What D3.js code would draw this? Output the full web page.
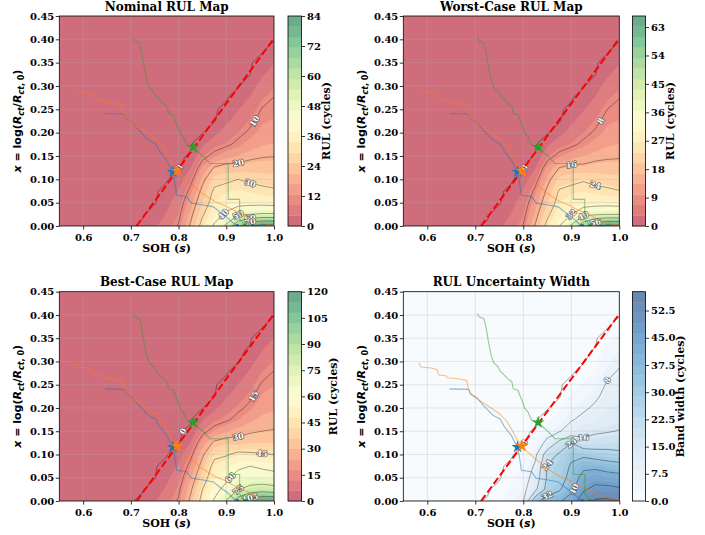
<!DOCTYPE html>
<html>
<head>
<meta charset="utf-8">
<script src="https://cdn.jsdelivr.net/npm/d3@7"></script>
<style>
  body { margin: 0; background: #fff; }
  svg text { font-family: "DejaVu Serif", serif; font-weight: bold; fill: #000; }
  .tick text { font-size: 10px; }
  .tick line { stroke: #000; stroke-width: 0.8; }
  .title { font-size: 12px; }
  .axlabel { font-size: 11px; }
  .clabel { font-size: 8px; fill: #fff !important; stroke: #444; stroke-width: 1.3px; stroke-opacity: 0.85; paint-order: stroke; stroke-linejoin: round; }
</style>
</head>
<body>
<svg id="fig" width="705" height="535"></svg>
<script>

// grid nodes of the maps
var sohNodes = [0.55, 0.575, 0.60, 0.625, 0.65, 0.675, 0.70, 0.725, 0.75, 0.775, 0.80, 0.825, 0.85, 0.875, 0.90, 0.925, 0.95, 0.975, 1.00];
var xNodes = [0, 0.025, 0.05, 0.075, 0.10, 0.125, 0.15, 0.175, 0.20, 0.225, 0.25, 0.275, 0.30, 0.325, 0.35, 0.375, 0.40, 0.425, 0.45];
var firstCol = 7; // SOH < 0.725 is zero everywhere

/*
one array per SOH column (0.725 ... 1.0), values from x = 0 upward,
cells not listed are 0 (above the EOL line)
*/
var rulNominal = [
	[0.8],
	[3.5, 1.8],
	[6.5, 4.5, 3, 1],
	[10.5, 8.5, 6.5, 4.5, 2],
	[21, 18, 15, 11.5, 8, 4, 0.5],
	[33, 29, 25, 22, 18, 13.5, 8, 3.5],
	[41, 37, 34, 31.5, 27, 20.5, 12, 7, 3],
	[52, 41, 37, 33, 28.5, 22.5, 15, 8.8, 6, 3.5, 1],
	[68, 49, 36, 34, 30, 22, 17, 11.5, 8.5, 6, 4, 2],
	[80, 50, 37, 33, 28.5, 23, 18.5, 14.5, 11, 8.8, 6.5, 4.5, 2.5, 0.3],
	[84, 51, 37, 32, 27.5, 23, 19.5, 16.5, 14, 12, 10.3, 8, 5.8, 3.6, 1.5],
	[84, 51, 36.5, 31, 27, 23, 19.8, 17, 15, 13, 11.5, 10.1, 8, 6, 4, 2]
];
var rulWorst = [
	[0.6],
	[2.7, 1.4],
	[5, 3.5, 2.3, 0.8],
	[8.2, 6.6, 5, 3.5, 1.5],
	[16.5, 14, 11.7, 9, 6.2, 3.1, 0.4],
	[26, 22.6, 19.5, 17.2, 14, 10.5, 6.2, 2.7],
	[32, 29, 26.5, 24.5, 21, 16, 9.4, 5.5, 2.3],
	[41, 32, 29, 25.8, 22.2, 17.5, 11.7, 6.9, 4.7, 2.7, 0.8],
	[53, 38, 28, 26.5, 23.4, 17.2, 13.3, 9, 6.6, 4.7, 3.1, 1.6],
	[63, 39, 29, 25.8, 22.2, 18, 14.4, 11.3, 8.6, 6.9, 5.1, 3.5, 2, 0.2],
	[66.5, 40, 29, 25, 21.5, 18, 15.2, 12.9, 10.9, 9.4, 8, 6.2, 4.5, 2.8, 1.2],
	[66, 40, 28.5, 24.2, 21, 18, 15.4, 13.3, 11.7, 10.1, 9, 7.9, 6.2, 4.7, 3.1, 1.6]
];
var rulBest = [
	[1.2],
	[5.4, 2.8],
	[10, 7, 4.6, 1.5],
	[16, 13.2, 10, 7, 3.1],
	[32, 28, 23.3, 17.8, 12.4, 6.2, 0.8],
	[49, 45, 39, 34, 28, 21, 12.4, 5.4],
	[61, 57, 53, 49, 42, 32, 18.6, 10.8, 4.6],
	[76, 63, 58, 52, 44, 35, 23.3, 13.6, 9.3, 5.4, 1.5],
	[98, 74, 64, 58, 48, 34, 26.4, 17.8, 13.2, 9.3, 6.2, 3.1],
	[114, 80, 66, 60, 47, 36, 28.7, 22.5, 17, 13.6, 10, 7, 3.9, 0.5],
	[120, 82, 66, 58, 46, 36, 30, 25.6, 21.7, 18.6, 16, 12.4, 9, 5.6, 2.3],
	[119, 80, 65, 56, 45, 36, 30.7, 26.4, 23.3, 20.2, 17.8, 15.7, 12.4, 9.3, 6.2, 3.1]
];
var bandWidth = [
	[0.5],
	[2.5, 1.2],
	[5, 3.5, 2.2, 0.8],
	[7.5, 6, 4.8, 3.2, 1.5],
	[30, 14, 11, 9, 6.5, 3.5, 0.5],
	[36, 27, 25, 24.5, 20, 10, 5, 2],
	[39, 31, 28, 27, 25, 18, 7.5, 4.5, 2],
	[44, 38, 35, 33, 30, 24, 11, 7.5, 5.5, 3.5, 1.2],
	[52, 47, 43, 38, 30, 18, 13.5, 9.5, 7, 5, 3.5, 1.5],
	[57, 50, 45, 38, 28, 19, 15, 11.5, 9, 7, 5.2, 3.5, 2, 0.4],
	[57.7, 50, 44, 36, 27, 20, 15.5, 13, 11, 9.8, 8.6, 7, 5, 3.5, 1.8],
	[56, 49, 43, 35, 26, 20, 16.3, 14, 12, 11, 9.8, 8.6, 7.2, 5.5, 3.8, 2]
];

// trajectories [SOH, x]
var trajBlue = [[0.646,0.241],[0.686,0.240],[0.690,0.230],[0.703,0.222],[0.718,0.204],[0.737,0.184],[0.751,0.177],[0.761,0.159],[0.775,0.141],[0.782,0.127],[0.788,0.116],[0.792,0.095],[0.796,0.066],[0.817,0.063],[0.827,0.049],[0.852,0.045],[0.873,0.041],[0.890,0.027],[0.900,0.020],[0.915,0.006],[0.923,0.0]];
var trajOrange = [[0.582,0.297],[0.587,0.288],[0.608,0.286],[0.620,0.283],[0.624,0.271],[0.637,0.270],[0.642,0.265],[0.665,0.263],[0.682,0.259],[0.686,0.240],[0.693,0.228],[0.712,0.214],[0.733,0.200],[0.752,0.186],[0.766,0.171],[0.778,0.150],[0.787,0.132],[0.798,0.118],[0.808,0.106],[0.825,0.091],[0.845,0.074],[0.860,0.063],[0.877,0.052],[0.897,0.044],[0.915,0.034],[0.930,0.028],[0.960,0.012],[1.0,0.0]];
var trajGreen = [[0.704,0.403],[0.708,0.396],[0.718,0.392],[0.723,0.370],[0.727,0.345],[0.733,0.313],[0.738,0.298],[0.746,0.290],[0.753,0.278],[0.761,0.270],[0.768,0.262],[0.776,0.257],[0.779,0.241],[0.789,0.238],[0.794,0.224],[0.800,0.209],[0.803,0.199],[0.810,0.191],[0.813,0.184],[0.817,0.174],[0.825,0.170],[0.831,0.169],[0.837,0.163],[0.842,0.158],[0.852,0.149],[0.859,0.141],[0.866,0.134],[0.904,0.134],[0.904,0.057],[0.928,0.057],[0.928,0.015],[0.940,0.0]];
var eolStars = [[0.788, 0.116], [0.797, 0.118], [0.831, 0.169]];
var eolLine = [[0.712, 0], [1.0, 0.402]];

var xTicks = [0.6, 0.7, 0.8, 0.9, 1.0];
var yTicks = [0, 0.05, 0.10, 0.15, 0.20, 0.25, 0.30, 0.35, 0.40, 0.45];
var cbTicksNominal = [0, 12, 24, 36, 48, 60, 72, 84];
var cbTicksWorst = [0, 9, 18, 27, 36, 45, 54, 63];
var cbTicksBest = [0, 15, 30, 45, 60, 75, 90, 105, 120];
var cbTicksWidth = [0, 7.5, 15, 22.5, 30, 37.5, 45, 52.5];

var linesNominal = [0, 10, 20, 30, 40, 50, 60, 70, 80];
var linesWorst = [0, 8, 16, 24, 32, 40, 48, 56, 64];
var linesBest = [0, 15, 30, 45, 60, 75, 90, 105];
var linesWidth = [0, 8, 16, 24, 32, 40, 48, 56];

// label spots [level, SOH, x]
var labelsNominal = [[0,0.803,0.138],[10,0.957,0.22],[20,0.922,0.131],[30,0.95,0.091],[40,0.897,0.027],[50,0.922,0.024],[60,0.946,0.009],[70,0.96,0.004]];
var labelsWorst = [[0,0.805,0.138],[8,0.974,0.233],[16,0.901,0.131],[24,0.944,0.086],[32,0.911,0.034],[40,0.933,0.019],[56,0.953,0.004]];
var labelsBest = [[0,0.805,0.138],[15,0.96,0.238],[30,0.922,0.133],[45,0.988,0.093],[60,0.915,0.059],[75,0.915,0.013],[105,0.95,0.006]];
var labelsWidth = [[0,0.805,0.138],[8,0.974,0.266],[16,0.9375,0.134],[24,0.904,0.127],[24,0.859,0.088],[32,0.836,0.009],[40,0.93,0.01]];

var trajColors = ["#1f77b4", "#ff7f0e", "#2ca02c"];

var svg = d3.select("#fig");
var nx = sohNodes.length, ny = xNodes.length;
var nBands = 20;

function buildGrid(cols) {
	var v = new Array(nx * ny).fill(0);
	cols.forEach(function(col, k) {
		col.forEach(function(val, j) { v[j * nx + firstCol + k] = val; });
	});
	return v;
}

function drawPanel(p, idx) {
	var g = svg.append("g");
	var xS = d3.scaleLinear().domain([0.55, 1.0]).range([p.left, p.left + p.w]);
	var yS = d3.scaleLinear().domain([0, 0.45]).range([p.top + p.h, p.top]);
	// d3.contours puts node i at i + 0.5
	var iS = d3.scaleLinear().domain([0.5, nx - 0.5]).range([sohNodes[0], sohNodes[nx - 1]]);
	var jS = d3.scaleLinear().domain([0.5, ny - 0.5]).range([xNodes[0], xNodes[ny - 1]]);
	var toPx = function(a, b) { return [xS(iS(a)), yS(jS(b))]; };
	var path = d3.geoPath(d3.geoTransform({point: function(a, b) {
		var q = toPx(a, b); this.stream.point(q[0], q[1]);
	}}));
	var grid = buildGrid(p.cols);
	var step = p.vmax / nBands;
	var bandColor = function(k) { return d3.interpolateRgb("#fff", p.cmap((k + 0.5) / nBands))(0.6); };

	g.append("clipPath").attr("id", "clip" + idx)
		.append("rect").attr("x", p.left).attr("y", p.top).attr("width", p.w).attr("height", p.h);
	var plot = g.append("g").attr("clip-path", "url(#clip" + idx + ")");

	plot.append("rect").attr("x", p.left).attr("y", p.top).attr("width", p.w).attr("height", p.h)
		.attr("fill", bandColor(0));
	var thr = d3.range(1, nBands).map(function(k) { return k * step; });
	var bands = d3.contours().size([nx, ny]).thresholds(thr)(grid);
	plot.selectAll("path.band").data(bands).join("path")
		.attr("class", "band")
		.attr("d", path)
		.attr("fill", function(d, i) { return bandColor(i + 1); });

	// grid
	plot.selectAll("line.gx").data(xTicks).join("line")
		.attr("x1", xS).attr("x2", xS).attr("y1", p.top).attr("y2", p.top + p.h)
		.attr("stroke", "#b0b0b0").attr("stroke-opacity", 0.35).attr("stroke-width", 0.8);
	plot.selectAll("line.gy").data(yTicks).join("line")
		.attr("y1", yS).attr("y2", yS).attr("x1", p.left).attr("x2", p.left + p.w)
		.attr("stroke", "#b0b0b0").attr("stroke-opacity", 0.35).attr("stroke-width", 0.8);

	// contour lines (level 0 traced just inside the positive region)
	var lineThr = function(l) { return l === 0 ? 0.3 : l; };
	var lines = d3.contours().size([nx, ny]).thresholds(p.lines.map(lineThr))(grid);
	plot.selectAll("path.cl").data(lines).join("path")
		.attr("d", path)
		.attr("fill", "none").attr("stroke", "#000").attr("stroke-opacity", 0.5).attr("stroke-width", 0.7);

	// contour labels, snapped onto the line near the given spot
	p.labels.forEach(function(lb) {
		var c = d3.contours().size([nx, ny]).thresholds([lineThr(lb[0])])(grid)[0];
		var target = [xS(lb[1]), yS(lb[2])];
		var best = null, bd = Infinity;
		c.coordinates.forEach(function(poly) {
			poly.forEach(function(ring) {
				var pts = ring.map(function(q) { return toPx(q[0], q[1]); });
				for (var i = 1; i < pts.length - 1; i++) {
					var q = pts[i];
					if (q[0] < p.left + 2 || q[0] > p.left + p.w - 2 || q[1] < p.top + 1 || q[1] > p.top + p.h - 1) continue;
					var dd = (q[0] - target[0]) * (q[0] - target[0]) + (q[1] - target[1]) * (q[1] - target[1]);
					if (dd < bd) { bd = dd; best = [q, pts[i - 1], pts[i + 1]]; }
				}
			});
		});
		if (!best) return;
		var ang = Math.atan2(best[2][1] - best[1][1], best[2][0] - best[1][0]) * 180 / Math.PI;
		if (ang > 90) ang -= 180;
		if (ang < -90) ang += 180;
		plot.append("text").attr("class", "clabel")
			.attr("transform", "translate(" + best[0][0] + "," + best[0][1] + ") rotate(" + ang + ")")
			.attr("text-anchor", "middle").attr("dy", "0.35em")
			.text(lb[0]);
	});

	// trajectories
	var line = d3.line().x(function(d) { return xS(d[0]); }).y(function(d) { return yS(d[1]); });
	[trajBlue, trajOrange, trajGreen].forEach(function(t, i) {
		plot.append("path").attr("d", line(t))
			.attr("fill", "none").attr("stroke", trajColors[i]).attr("stroke-opacity", 0.5).attr("stroke-width", 1.1);
		var e = t[t.length - 1];
		plot.append("circle").attr("cx", xS(e[0])).attr("cy", yS(e[1])).attr("r", 2).attr("fill", trajColors[i]);
	});

	plot.append("path").attr("d", line(eolLine))
		.attr("stroke", "#ff0000").attr("stroke-width", 2).attr("stroke-dasharray", "7.4,3.2").attr("fill", "none");

	eolStars.forEach(function(s, i) {
		g.append("path").attr("d", d3.symbol().type(d3.symbolStar).size(48)())
			.attr("transform", "translate(" + xS(s[0]) + "," + yS(s[1]) + ")")
			.attr("fill", trajColors[i]);
	});

	// frame + axes
	g.append("rect").attr("x", p.left).attr("y", p.top).attr("width", p.w).attr("height", p.h)
		.attr("fill", "none").attr("stroke", "#000").attr("stroke-width", 0.8);
	var ax = g.append("g").attr("transform", "translate(0," + (p.top + p.h) + ")")
		.call(d3.axisBottom(xS).tickValues(xTicks).tickFormat(d3.format(".1f")).tickSize(3.5).tickPadding(4));
	var ay = g.append("g").attr("transform", "translate(" + p.left + ",0)")
		.call(d3.axisLeft(yS).tickValues(yTicks).tickFormat(d3.format(".2f")).tickSize(3.5).tickPadding(1.5));
	ax.select(".domain").remove();
	ay.select(".domain").remove();
	ax.selectAll("text").attr("font-family", null).attr("font-size", null);
	ay.selectAll("text").attr("font-family", null).attr("font-size", null);

	g.append("text").attr("class", "title")
		.attr("x", p.left + p.w / 2).attr("y", p.top - 5.5).attr("text-anchor", "middle").text(p.title);

	var xl = g.append("text").attr("class", "axlabel")
		.attr("x", p.left + p.w / 2).attr("y", p.top + p.h + 26).attr("text-anchor", "middle");
	xl.append("tspan").text("SOH (");
	xl.append("tspan").attr("font-family", "DejaVu Sans").attr("font-style", "italic").text("s");
	xl.append("tspan").text(")");

	var yl = g.append("text").attr("class", "axlabel")
		.attr("transform", "translate(" + (p.left - 38) + "," + (p.top + p.h / 2) + ") rotate(-90)")
		.attr("text-anchor", "middle").style("font-family", "DejaVu Sans");
	yl.append("tspan").attr("font-style", "italic").text("x");
	yl.append("tspan").text(" = log(");
	yl.append("tspan").attr("font-style", "italic").text("R");
	yl.append("tspan").attr("font-style", "italic").attr("font-size", 8).attr("dy", 2.5).text("ct");
	yl.append("tspan").attr("dy", -2.5).text("/");
	yl.append("tspan").attr("font-style", "italic").text("R");
	yl.append("tspan").attr("font-style", "italic").attr("font-size", 8).attr("dy", 2.5).text("ct");
	yl.append("tspan").attr("font-size", 8).text(", 0");
	yl.append("tspan").attr("dy", -2.5).text(")");

	// colorbar
	var cbY = d3.scaleLinear().domain([0, p.vmax]).range([p.top + p.h, p.top]);
	var cb = g.append("g");
	cb.selectAll("rect").data(d3.range(nBands)).join("rect")
		.attr("x", p.cbx).attr("width", p.cbw)
		.attr("y", function(k) { return cbY((k + 1) * step); })
		.attr("height", function(k) { return cbY(k * step) - cbY((k + 1) * step) + 0.3; })
		.attr("fill", bandColor);
	cb.append("rect").attr("x", p.cbx).attr("y", p.top).attr("width", p.cbw).attr("height", p.h)
		.attr("fill", "none").attr("stroke", "#000").attr("stroke-width", 0.8);
	var cax = cb.append("g").attr("transform", "translate(" + (p.cbx + p.cbw) + ",0)")
		.call(d3.axisRight(cbY).tickValues(p.cbTicks).tickFormat(p.cbFormat).tickSize(3.5).tickPadding(2));
	cax.select(".domain").remove();
	cax.selectAll("text").attr("font-family", null).attr("font-size", null);
	var maxW = 0;
	cax.selectAll("text").each(function() { maxW = Math.max(maxW, this.getComputedTextLength()); });
	g.append("text").attr("class", "axlabel")
		.attr("transform", "translate(" + (p.cbx + p.cbw + 5.5 + maxW + 9) + "," + (p.top + p.h / 2) + ") rotate(-90)")
		.attr("text-anchor", "middle").text(p.cbLabel);
}

var panels = [
	{title: "Nominal RUL Map", cols: rulNominal, vmax: 84, cbTicks: cbTicksNominal, cbFormat: d3.format("d"),
	 lines: linesNominal, labels: labelsNominal, cmap: d3.interpolateRdYlGn, cbLabel: "RUL (cycles)",
	 left: 59.3, top: 16, w: 214.7, h: 210, cbx: 288, cbw: 13.5},
	{title: "Worst-Case RUL Map", cols: rulWorst, vmax: 66.5, cbTicks: cbTicksWorst, cbFormat: d3.format("d"),
	 lines: linesWorst, labels: labelsWorst, cmap: d3.interpolateRdYlGn, cbLabel: "RUL (cycles)",
	 left: 403.3, top: 16, w: 216, h: 210, cbx: 632.5, cbw: 13},
	{title: "Best-Case RUL Map", cols: rulBest, vmax: 120, cbTicks: cbTicksBest, cbFormat: d3.format("d"),
	 lines: linesBest, labels: labelsBest, cmap: d3.interpolateRdYlGn, cbLabel: "RUL (cycles)",
	 left: 59.3, top: 291.7, w: 214.7, h: 209.3, cbx: 288, cbw: 13.5},
	{title: "RUL Uncertainty Width", cols: bandWidth, vmax: 57.7, cbTicks: cbTicksWidth, cbFormat: d3.format(".1f"),
	 lines: linesWidth, labels: labelsWidth, cmap: d3.interpolateBlues, cbLabel: "Band width (cycles)",
	 left: 403.3, top: 291.7, w: 216, h: 209.3, cbx: 632.5, cbw: 13}
];
panels.forEach(drawPanel);

</script>
</body>
</html>
